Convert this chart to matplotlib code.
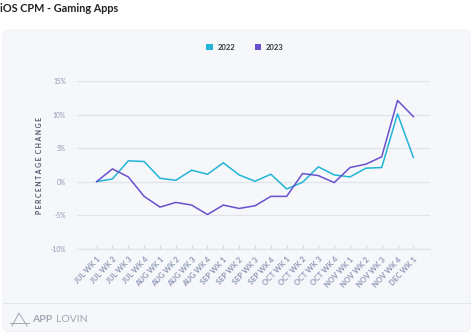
import matplotlib.pyplot as plt
from matplotlib.patches import FancyBboxPatch, Patch
from matplotlib.lines import Line2D
import numpy as np

weeks = ["JUL WK 1", "JUL WK 2", "JUL WK 3", "JUL WK 4",
         "AUG WK 1", "AUG WK 2", "AUG WK 3", "AUG WK 4",
         "SEP WK 1", "SEP WK 2", "SEP WK 3", "SEP WK 4",
         "OCT WK 1", "OCT WK 2", "OCT WK 3", "OCT WK 4",
         "NOV WK 1", "NOV WK 2", "NOV WK 3", "NOV WK 4", "DEC WK 1"]
cpm_2022 = [0.0, 0.4, 3.1, 3.0, 0.5, 0.2, 1.7, 1.1, 2.8, 1.0, 0.05,
            1.1, -1.1, -0.1, 2.2, 1.0, 0.7, 2.0, 2.1, 10.1, 3.6]
cpm_2023 = [0.0, 1.9, 0.7, -2.2, -3.8, -3.1, -3.5, -4.9, -3.5, -4.0, -3.6,
            -2.2, -2.2, 1.2, 0.9, -0.15, 2.1, 2.6, 3.7, 12.1, 9.7]
yticks = [-10, -5, 0, 5, 10, 15]

c22 = "#20b5d6"
c23 = "#6a4fcf"
tick_col = "#8e97b6"
W, H = 474, 335

plt.rcParams['font.family'] = ['Lato', 'DejaVu Sans']
fig = plt.figure(figsize=(W / 100, H / 100), dpi=100)
fig.patch.set_facecolor("white")

# light panel behind the chart
panel = FancyBboxPatch((3 / W, 0.01), 467 / W, 1 - 30 / H - 0.01,
                       boxstyle="round,pad=0,rounding_size=0.015",
                       transform=fig.transFigure, facecolor="#f6f7fb",
                       edgecolor="#eef0f5", lw=0.6, zorder=-2)
fig.patches.append(panel)
fig.lines.append(Line2D([3 / W, 470 / W], [1 - 303 / H] * 2,
                        transform=fig.transFigure, color="#e4e6ee", lw=0.8,
                        zorder=-1))

fig.text(0, 1 - 8 / H, "iOS CPM - Gaming Apps", fontsize=7.8,
         fontweight="bold", color="#222222", va="center", ha="left")

ax = fig.add_axes([77 / W, 1 - 248.7 / H, 353 / W, 167.7 / H])
ax.set_facecolor("none")
x = np.arange(len(weeks))
ax.plot(x, cpm_2022, color=c22, lw=1.1, zorder=3)
ax.plot(x, cpm_2023, color=c23, lw=1.1, zorder=3)

ax.set_xlim(-1.24, 21.05)
ax.set_ylim(-10, 15)
ax.set_yticks(yticks)
ax.set_yticklabels([f"{v}%" for v in yticks], fontsize=4.8, color=tick_col)
ax.yaxis.grid(True, color="#e1e3ea", lw=0.9)
ax.tick_params(axis="y", length=0, pad=8)
ax.set_xticks(x)
ax.set_xticklabels(weeks, rotation=47, ha="right", va="top",
                   rotation_mode="anchor", fontsize=5.4, color=tick_col,
                   fontweight="bold")
ax.tick_params(axis="x", direction="in", length=3, color="#d5d8e0", pad=5)
for s in ["top", "right", "left"]:
    ax.spines[s].set_visible(False)
ax.spines["bottom"].set_color("#e1e3ea")
ax.spines["bottom"].set_linewidth(0.9)
ax.set_axisbelow(True)

fig.text(40 / W, 1 - 165 / H, "P E R C E N T A G E  C H A N G E",
         rotation=90, fontsize=4.9, fontweight="bold", color="#4e5264",
         ha="center", va="center")

handles = [Patch(facecolor=c22, edgecolor="none", label="2022"),
           Patch(facecolor=c23, edgecolor="none", label="2023")]
leg = fig.legend(handles=handles, loc="center", ncol=2,
                 bbox_to_anchor=(245 / W, 1 - 47 / H), frameon=False,
                 fontsize=5.5, handlelength=0.85, handleheight=0.85,
                 handletextpad=0.6, columnspacing=2.6)
for t in leg.get_texts():
    t.set_fontweight("bold")
    t.set_color("#333333")

# footer logo
logo = "#a3a7b2"
fig.lines.append(Line2D([12 / W, 19 / W, 27 / W], [1 - 326 / H, 1 - 313 / H, 1 - 326 / H],
                        transform=fig.transFigure, color=logo, lw=0.7))
fig.lines.append(Line2D([10 / W, 29 / W], [1 - 323 / H, 1 - 323 / H],
                        transform=fig.transFigure, color=logo, lw=0.7))
fig.text(32 / W, 1 - 319 / H, "APP", fontsize=7.5, fontweight="bold",
         color=logo, va="center", ha="left")
fig.text(56 / W, 1 - 319 / H, "LOVIN", fontsize=7.5, color=logo,
         va="center", ha="left")

fig.savefig("out.png", dpi=100)
